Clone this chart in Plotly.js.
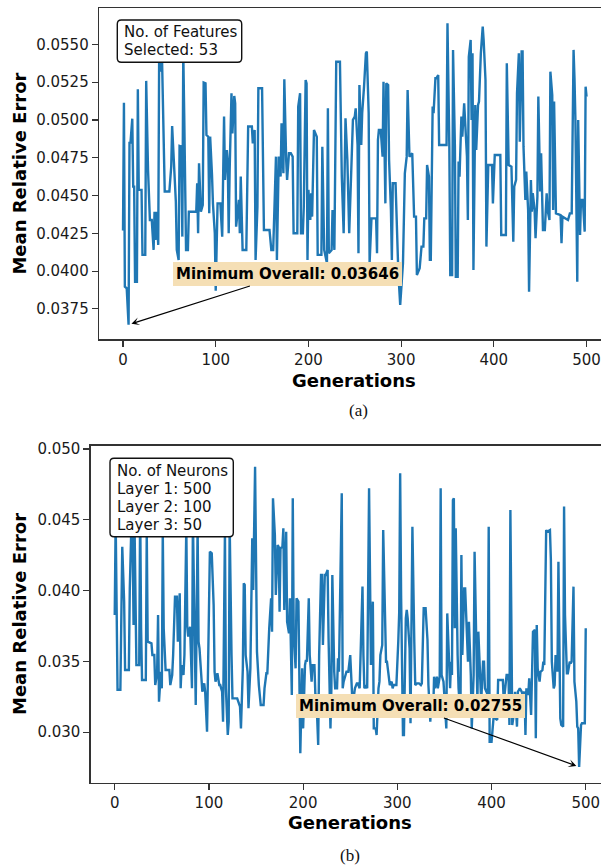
<!DOCTYPE html>
<html>
<head>
<meta charset="utf-8">
<script src="https://cdn.plot.ly/plotly-3.0.1.min.js"></script>
<style>
  html, body { margin: 0; padding: 0; background: #ffffff; overflow: hidden; }
  #chart { width: 601px; height: 868px; }
</style>
</head>
<body>
<div id="chart"></div>
<script>
// (a) feature-selection run: best mean relative error per generation
const genA = [0,1,2,4,6,7,8,10,11,12,13,15,16,17,20,21,24,25,27,29,31,33,34,35,36,38,39,41,42,44,45,50,52,53,55,56,57,58,60,61,63,64,65,66,68,70,71,79,80,81,82,84,86,87,89,90,92,93,94,96,97,99,100,102,105,107,109,110,112,113,114,115,117,118,120,121,122,125,126,127,129,133,135,139,140,142,143,145,146,150,152,158,160,162,163,165,166,168,170,171,173,174,176,177,179,181,183,184,188,189,191,192,194,195,197,198,199,200,202,203,204,206,209,210,214,215,217,220,221,222,225,226,228,230,234,236,238,240,242,244,248,250,251,253,254,255,257,258,260,262,263,265,266,268,273,274,275,276,278,280,281,283,284,286,287,289,290,291,294,296,297,299,300,302,304,306,307,309,312,314,316,317,320,322,324,325,327,328,330,331,332,334,335,337,338,340,341,349,350,352,353,355,356,358,359,361,362,363,365,366,368,369,371,372,373,375,376,377,378,380,381,383,384,386,388,389,391,392,394,398,399,401,407,408,413,414,416,419,421,422,424,425,427,428,430,431,432,434,435,437,438,440,441,442,444,445,447,448,450,451,453,455,457,458,460,461,463,464,465,467,472,473,474,480,482,484,486,487,488,490,491,493,494,496,498,499,500];
const errA = [0.04268,0.05114,0.03897,0.03886,0.03646,0.04856,0.04845,0.05008,0.04559,0.04559,0.03930,0.03930,0.05202,0.04537,0.04537,0.04107,0.04107,0.05258,0.04669,0.04338,0.04338,0.04140,0.04393,0.04206,0.04393,0.04173,0.05450,0.05320,0.05430,0.04691,0.04526,0.04526,0.04691,0.04960,0.04691,0.04559,0.04459,0.04140,0.04074,0.04828,0.04823,0.04228,0.05450,0.05044,0.04140,0.04140,0.04393,0.04393,0.04581,0.04250,0.04713,0.04393,0.04437,0.05247,0.05242,0.04900,0.04889,0.04382,0.04889,0.04636,0.04448,0.04250,0.03870,0.04448,0.04448,0.04228,0.05022,0.04603,0.04801,0.04724,0.04250,0.04658,0.05176,0.04911,0.05158,0.05110,0.04294,0.04471,0.04250,0.04625,0.04140,0.04140,0.04956,0.04956,0.04845,0.04933,0.04074,0.04426,0.05209,0.05209,0.04272,0.04272,0.04140,0.04140,0.04338,0.04757,0.04074,0.04757,0.04625,0.04978,0.04647,0.05269,0.04735,0.04603,0.04779,0.04779,0.04757,0.04250,0.04250,0.05088,0.05176,0.04250,0.04250,0.04426,0.05264,0.05242,0.04074,0.04537,0.04338,0.04515,0.04360,0.04933,0.04889,0.04107,0.04107,0.04823,0.04140,0.04052,0.05077,0.04118,0.04140,0.04404,0.04140,0.05385,0.05385,0.04625,0.04250,0.05011,0.04735,0.04250,0.05000,0.05022,0.05077,0.04834,0.04118,0.05231,0.04834,0.05044,0.05220,0.05441,0.05452,0.05044,0.04052,0.04349,0.04349,0.04118,0.04867,0.04933,0.04933,0.04757,0.05253,0.04448,0.05242,0.05231,0.04735,0.04404,0.04074,0.04581,0.04581,0.04074,0.03986,0.03776,0.03897,0.04052,0.04647,0.04757,0.05198,0.04757,0.04779,0.04360,0.04360,0.03974,0.04019,0.04162,0.04162,0.04349,0.04349,0.04702,0.04625,0.04074,0.04074,0.05088,0.05044,0.05275,0.05275,0.05297,0.04834,0.04834,0.05639,0.04823,0.03974,0.03974,0.05463,0.04823,0.03963,0.03963,0.04724,0.04625,0.05022,0.04889,0.05110,0.05000,0.04757,0.04338,0.05418,0.05529,0.05000,0.05441,0.04008,0.05099,0.04801,0.05099,0.05121,0.05441,0.05617,0.05529,0.05264,0.04162,0.04702,0.04702,0.04448,0.04768,0.04768,0.04239,0.04239,0.05374,0.04702,0.04691,0.04195,0.04559,0.04603,0.05176,0.05441,0.04856,0.05452,0.05452,0.04823,0.04471,0.04658,0.04404,0.03864,0.04603,0.04393,0.04515,0.04404,0.04217,0.04493,0.05154,0.04526,0.04779,0.04272,0.04272,0.04515,0.04404,0.04338,0.05319,0.05165,0.04404,0.05121,0.04382,0.04371,0.04184,0.04360,0.04338,0.04382,0.04382,0.05463,0.05275,0.05000,0.03930,0.05000,0.04239,0.04471,0.04471,0.04261,0.05220,0.05154];

// (b) network-architecture run: best mean relative error per generation
const genB = [0,1,3,6,8,9,10,11,15,16,18,19,20,21,23,26,27,28,29,33,34,35,39,40,42,43,45,46,47,49,50,51,52,54,58,59,61,62,64,66,67,69,70,71,73,74,76,77,78,80,81,82,83,85,86,88,89,90,92,93,95,96,98,99,101,103,105,106,107,109,111,112,114,115,117,118,120,121,122,124,125,130,132,133,134,136,137,138,139,141,142,144,146,147,149,150,151,153,155,158,159,161,162,164,166,167,168,170,171,173,174,175,176,178,179,180,182,183,185,186,188,189,190,192,193,195,196,197,199,200,202,203,204,206,207,209,210,212,213,214,216,217,219,220,221,223,224,226,227,229,230,231,233,234,236,237,238,241,242,243,246,248,250,252,254,255,257,258,260,261,263,264,265,267,268,270,271,272,274,275,277,278,280,281,282,284,285,287,288,289,291,292,294,295,296,299,301,302,303,304,306,307,309,310,311,313,314,315,316,318,319,321,323,325,326,328,330,332,333,335,336,338,339,340,342,343,345,346,347,349,350,352,353,355,356,357,358,359,360,361,362,364,365,367,368,369,371,372,374,375,376,378,379,381,382,384,385,386,388,389,391,392,393,396,397,398,400,401,403,404,406,407,412,413,415,416,418,419,420,422,423,425,427,428,430,432,433,435,436,437,439,440,442,443,444,446,447,448,449,451,452,454,455,456,458,459,461,462,463,464,466,467,468,470,471,473,474,476,477,478,480,481,483,484,485,487,488,490,491,492,493,495,496,499,500];
const errB = [0.03828,0.04500,0.03300,0.03300,0.04310,0.04134,0.03922,0.03439,0.03439,0.04016,0.04550,0.04369,0.03757,0.04480,0.03474,0.03474,0.04600,0.03734,0.03369,0.03369,0.04420,0.03639,0.03628,0.03545,0.03545,0.03333,0.03416,0.03828,0.03216,0.03427,0.03310,0.04420,0.03734,0.03439,0.03439,0.03333,0.03404,0.03545,0.03957,0.03957,0.03639,0.03981,0.03310,0.03474,0.03404,0.03545,0.04450,0.03745,0.03675,0.03745,0.03545,0.03310,0.04500,0.03545,0.03192,0.04450,0.03639,0.03592,0.03427,0.03286,0.03345,0.03286,0.03004,0.03345,0.04275,0.04263,0.03898,0.03427,0.03357,0.03416,0.03333,0.03333,0.03286,0.03074,0.04420,0.03310,0.02980,0.03074,0.04480,0.03545,0.03239,0.03239,0.03192,0.03180,0.03027,0.03451,0.04051,0.04040,0.03545,0.03427,0.03169,0.03451,0.04369,0.04004,0.04875,0.04346,0.03569,0.03333,0.03192,0.03192,0.03310,0.03416,0.03416,0.03734,0.03945,0.03710,0.04652,0.04393,0.03969,0.04322,0.04310,0.03851,0.04298,0.04310,0.04440,0.03863,0.04416,0.03780,0.03698,0.03945,0.03263,0.04652,0.03710,0.03451,0.03945,0.03922,0.03169,0.02851,0.03451,0.03027,0.03474,0.03510,0.03498,0.03945,0.03545,0.03357,0.03474,0.03474,0.03263,0.03263,0.02910,0.03545,0.04110,0.04110,0.03616,0.04110,0.04110,0.04146,0.03663,0.03027,0.03310,0.04110,0.03427,0.03310,0.03310,0.03522,0.03427,0.04687,0.03310,0.03357,0.03427,0.03427,0.03545,0.03263,0.03263,0.03310,0.03345,0.03345,0.03310,0.03545,0.04028,0.03545,0.03310,0.03333,0.03310,0.04722,0.03922,0.03474,0.03922,0.03027,0.03027,0.02980,0.03310,0.03357,0.03545,0.03616,0.04428,0.03639,0.03498,0.03498,0.03404,0.03333,0.03357,0.03310,0.03333,0.03333,0.03639,0.03851,0.04828,0.03969,0.02980,0.02980,0.03804,0.03863,0.03804,0.03592,0.03063,0.03804,0.04451,0.03639,0.03333,0.03345,0.03345,0.03333,0.03345,0.03875,0.03875,0.03651,0.03333,0.03074,0.03263,0.03122,0.03392,0.03310,0.03392,0.03310,0.03392,0.04722,0.03404,0.03357,0.03263,0.03027,0.03839,0.03427,0.03310,0.03498,0.03404,0.04640,0.04652,0.03734,0.04440,0.03545,0.03310,0.03122,0.04251,0.03545,0.04016,0.04016,0.03686,0.03498,0.03780,0.03404,0.03027,0.03404,0.04275,0.03545,0.03216,0.03710,0.03357,0.03216,0.03498,0.03498,0.03310,0.03263,0.04451,0.02933,0.02933,0.03027,0.03169,0.03098,0.03086,0.03369,0.03369,0.03216,0.03333,0.03404,0.03404,0.03051,0.04569,0.03051,0.03098,0.03286,0.03039,0.03286,0.03310,0.03286,0.03263,0.03286,0.02980,0.03310,0.03263,0.03380,0.03122,0.03474,0.03710,0.03722,0.02957,0.03757,0.03451,0.03357,0.03427,0.03439,0.03498,0.03474,0.04428,0.04416,0.04428,0.04428,0.04216,0.03498,0.03310,0.03333,0.03545,0.03427,0.04204,0.03098,0.03051,0.03039,0.04593,0.03828,0.03416,0.03416,0.03498,0.03486,0.03498,0.04028,0.03357,0.03216,0.03039,0.03027,0.02755,0.03051,0.03063,0.03063,0.03734];

// tick positions and labels
const genTicks = [0, 100, 200, 300, 400, 500];
const yTicksA = [0.0375, 0.0400, 0.0425, 0.0450, 0.0475, 0.0500, 0.0525, 0.0550];
const yTicksB = [0.030, 0.035, 0.040, 0.045, 0.050];

// text blocks
const infoA = ["No. of Features", "Selected: 53"];
const infoB = ["No. of Neurons", "Layer 1: 500", "Layer 2: 100", "Layer 3: 50"];

const W = 601, H = 868;
const px = x => x / W;
const py = y => 1 - y / H;

const FONT = "DejaVu Sans";
const LINE = "#1f77b4";
const AXC = "#333333";

function argMin(arr) {
  let k = 0;
  for (let i = 1; i < arr.length; i++) if (arr[i] < arr[k]) k = i;
  return k;
}
const kA = argMin(errA), kB = argMin(errB);

function roundBox(x0, y0, x1, y1, r) {
  const p = (x, y) => `${px(x)},${py(y)}`;
  return {
    type: "path", xref: "paper", yref: "paper", layer: "above",
    path: `M${p(x0 + r, y0)} L${p(x1 - r, y0)} Q${p(x1, y0)} ${p(x1, y0 + r)} ` +
          `L${p(x1, y1 - r)} Q${p(x1, y1)} ${p(x1 - r, y1)} L${p(x0 + r, y1)} ` +
          `Q${p(x0, y1)} ${p(x0, y1 - r)} L${p(x0, y0 + r)} Q${p(x0, y0)} ${p(x0 + r, y0)} Z`,
    fillcolor: "#ffffff",
    line: { color: "#111111", width: 1.4 }
  };
}

function textLines(lines, x, yFirst, step) {
  return lines.map((t, i) => ({
    xref: "paper", yref: "paper", x: px(x), y: py(yFirst + i * step),
    xanchor: "left", yanchor: "middle", showarrow: false, text: t,
    font: { family: FONT, size: 15, color: "#111111" }
  }));
}

function paperText(t, x, y, font, angle) {
  return {
    xref: "paper", yref: "paper", x: px(x), y: py(y),
    xanchor: "center", yanchor: "middle", showarrow: false, text: t,
    textangle: angle || 0, font: font
  };
}

const titleFont = { family: FONT, size: 18, color: "#000000", weight: "bold" };
const capFont = { family: "Liberation Serif", size: 17, color: "#111111" };

const minLabelA = {
  xref: "x", yref: "y", axref: "x", ayref: "y",
  x: genA[kA], y: errA[kA], ax: 177.5, ay: 0.03981,
  text: "<b>Minimum Overall: " + errA[kA].toFixed(5) + "</b>",
  font: { family: FONT, size: 15, color: "#000000" },
  bgcolor: "#f5dfb5", borderpad: 3, borderwidth: 0,
  showarrow: true, arrowhead: 3, arrowsize: 1.1, arrowwidth: 1.2,
  arrowcolor: "#000000", standoff: 3
};
const minLabelB = {
  xref: "x2", yref: "y2", axref: "x2", ayref: "y2",
  x: genB[kB], y: errB[kB], ax: 314.2, ay: 0.03185,
  text: "<b>Minimum Overall: " + errB[kB].toFixed(5) + "</b>",
  font: { family: FONT, size: 15, color: "#000000" },
  bgcolor: "#f5dfb5", borderpad: 3, borderwidth: 0,
  showarrow: true, arrowhead: 3, arrowsize: 1.1, arrowwidth: 1.2,
  arrowcolor: "#000000", standoff: 3
};

const axisCommon = {
  showgrid: false, zeroline: false, showline: true, linecolor: AXC, linewidth: 1.3,
  ticks: "outside", ticklen: 6, tickwidth: 1.2, tickcolor: AXC,
  tickfont: { family: FONT, size: 15, color: "#1a1a1a" }
};

const traces = [
  { x: genA, y: errA, type: "scatter", mode: "lines", xaxis: "x", yaxis: "y",
    line: { color: LINE, width: 2.4 }, hoverinfo: "x+y" },
  { x: genB, y: errB, type: "scatter", mode: "lines", xaxis: "x2", yaxis: "y2",
    line: { color: LINE, width: 2.4 }, hoverinfo: "x+y" }
];

const layout = {
  width: W, height: H,
  margin: { l: 0, r: 0, t: 0, b: 0 },
  paper_bgcolor: "#ffffff", plot_bgcolor: "#ffffff",
  showlegend: false,
  font: { family: FONT },
  xaxis: Object.assign({}, axisCommon, {
    domain: [px(99), 1], range: [-25.9, 515.6], anchor: "y",
    mirror: true, tickvals: genTicks, ticktext: genTicks.map(String)
  }),
  yaxis: Object.assign({}, axisCommon, {
    domain: [py(339.3), py(8)], range: [0.035489, 0.057401], anchor: "x",
    tickvals: yTicksA, ticktext: yTicksA.map(v => v.toFixed(4))
  }),
  xaxis2: Object.assign({}, axisCommon, {
    domain: [px(90.7), 1], range: [-25.5, 516.2], anchor: "y2",
    mirror: true, tickvals: genTicks, ticktext: genTicks.map(String)
  }),
  yaxis2: Object.assign({}, axisCommon, {
    domain: [py(782.7), py(445.7)], range: [0.026434, 0.050233], anchor: "x2",
    tickvals: yTicksB, ticktext: yTicksB.map(v => v.toFixed(3))
  }),
  shapes: [
    roundBox(117.3, 20, 241.7, 62.3, 4),
    roundBox(110, 458.3, 233.3, 536.7, 4)
  ],
  annotations: [
    ...textLines(infoA, 122, 32.3, 17.6),
    ...textLines(infoB, 115, 470.5, 18.2),
    minLabelA, minLabelB,
    paperText("<b>Mean Relative Error</b>", 20, 173.6, titleFont, -90),
    paperText("<b>Generations</b>", 354, 380, titleFont),
    paperText("(a)", 358, 410, capFont),
    paperText("<b>Mean Relative Error</b>", 19, 614, titleFont, -90),
    paperText("<b>Generations</b>", 350, 822, titleFont),
    paperText("(b)", 350, 855, capFont)
  ]
};

Plotly.newPlot("chart", traces, layout, { staticPlot: true, displayModeBar: false });
</script>
</body>
</html>
